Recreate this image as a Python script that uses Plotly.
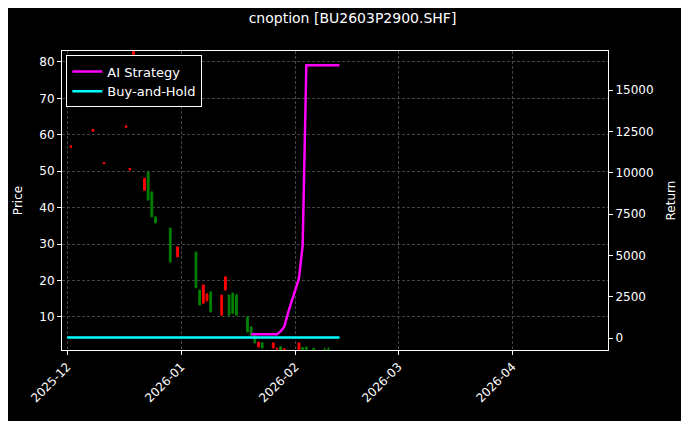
import plotly.graph_objects as go
import pandas as pd

dates = ["2025-12-02","2025-12-08","2025-12-11","2025-12-17","2025-12-18","2025-12-19","2025-12-22","2025-12-23",
         "2025-12-24","2025-12-25","2025-12-29","2025-12-31","2026-01-05","2026-01-06","2026-01-07","2026-01-08",
         "2026-01-09","2026-01-12","2026-01-13","2026-01-14","2026-01-15","2026-01-16","2026-01-19","2026-01-20",
         "2026-01-21","2026-01-22","2026-01-23","2026-01-26","2026-01-27","2026-01-28","2026-01-29","2026-02-02",
         "2026-02-03","2026-02-04","2026-02-06","2026-02-09","2026-02-10"]
opens  = [56.6,61.0,52.1,62.1,50.4,82.0,44.8,49.8,44.3,37.5,34.4,26.5,27.8,17.4,13.8,14.5,16.9,10.5,17.4,16.0,16.5,16.0,10.0,7.3,5.0,1.8,2.9,1.5,1.2,1.8,1.0,1.0,1.6,1.7,1.4,1.1,1.2]
highs  = [57.2,61.6,52.5,62.6,50.9,85.0,48.2,49.9,44.5,37.6,34.5,29.3,27.9,17.5,18.9,16.5,17.0,16.1,21.1,16.2,16.8,16.4,10.1,7.4,5.1,3.2,3.0,3.0,1.5,1.9,1.3,3.0,1.7,1.8,1.5,1.6,1.7]
lows   = [56.4,60.8,51.9,61.9,50.2,82.0,44.6,42.0,37.4,35.7,25.0,26.4,18.0,13.2,13.7,14.2,11.3,10.4,17.3,10.4,10.9,10.3,5.8,5.0,2.8,1.7,1.4,1.4,1.0,0.9,0.9,0.9,1.0,1.0,0.9,0.9,0.9]
closes = [56.9,61.5,52.3,62.4,50.7,84.0,48.0,42.1,37.5,35.8,25.1,29.2,18.0,13.3,18.8,16.3,11.4,16.0,21.0,10.5,11.0,10.5,5.9,5.0,2.9,3.1,1.5,2.9,1.4,1.0,1.2,2.9,1.1,1.1,1.0,0.95,1.0]

line_dates = [d.strftime("%Y-%m-%d") for d in pd.bdate_range("2025-12-01", "2026-02-13")]
bh_returns = [30.0] * len(line_dates)
ai_dates = ["2026-01-20","2026-01-21","2026-01-22","2026-01-23","2026-01-26","2026-01-27","2026-01-28","2026-01-29",
            "2026-01-30","2026-02-02","2026-02-03","2026-02-04","2026-02-05","2026-02-06","2026-02-09","2026-02-10",
            "2026-02-11","2026-02-12","2026-02-13"]
ai_returns = [220,220,220,220,220,220,400,680,1500,3600,5600,16500,16500,16500,16500,16500,16500,16500,16500]
ret_ticks = [0,2500,5000,7500,10000,12500,15000]

fig = go.Figure()
fig.add_trace(go.Candlestick(x=dates, open=opens, high=highs, low=lows, close=closes,
    increasing=dict(line=dict(color="#ff0000", width=1), fillcolor="#ff0000"),
    decreasing=dict(line=dict(color="#008000", width=1), fillcolor="#008000"),
    showlegend=False, whiskerwidth=0))
fig.add_trace(go.Scatter(x=ai_dates, y=ai_returns, mode="lines", name="AI Strategy",
    line=dict(color="#ff00ff", width=2.5), yaxis="y2"))
fig.add_trace(go.Scatter(x=line_dates, y=bh_returns, mode="lines", name="Buy-and-Hold",
    line=dict(color="#00ffff", width=2.5), yaxis="y2"))

grid = dict(showgrid=True, gridcolor="#444444", griddash="3px,2px", gridwidth=0.6)
fig.update_layout(
    width=689, height=421, paper_bgcolor="black", plot_bgcolor="black",
    font=dict(family="DejaVu Sans", color="white", size=12),
    title=dict(text="cnoption [BU2603P2900.SHF]", x=0.5, xanchor="center", y=0.976, yanchor="middle", font=dict(size=14)),
    margin=dict(l=54, r=89, t=43, b=79),
    xaxis=dict(type="date", range=["2025-11-29 14:00", "2026-04-27"], rangeslider=dict(visible=False), automargin=False,
               tickvals=["2025-12-01","2026-01-01","2026-02-01","2026-03-01","2026-04-01"],
               ticktext=["2025-12","2026-01","2026-02","2026-03","2026-04"], tickangle=-45,
               showline=True, linecolor="white", mirror=True, ticks="outside", ticklen=4, tickcolor="white", **grid),
    yaxis=dict(title=dict(text="Price", standoff=14, font=dict(size=12)), range=[0.94, 83], automargin=False,
               tickvals=[10,20,30,40,50,60,70,80], ticklen=4,
               showline=True, linecolor="white", mirror=True, ticks="outside", tickcolor="white", zeroline=False, **grid),
    yaxis2=dict(title=dict(text="Return", standoff=14, font=dict(size=12)), overlaying="y", side="right", range=[-726, 17359],
                tickvals=ret_ticks, ticktext=[str(v) for v in ret_ticks], showgrid=False, zeroline=False, automargin=False,
                ticks="outside", ticklen=4, tickcolor="white", showline=True, linecolor="white"),
    legend=dict(x=0.008, y=0.985, xanchor="left", yanchor="top", bgcolor="black", bordercolor="white",
                borderwidth=1, font=dict(size=13)),
)
fig.write_html("out.html")
